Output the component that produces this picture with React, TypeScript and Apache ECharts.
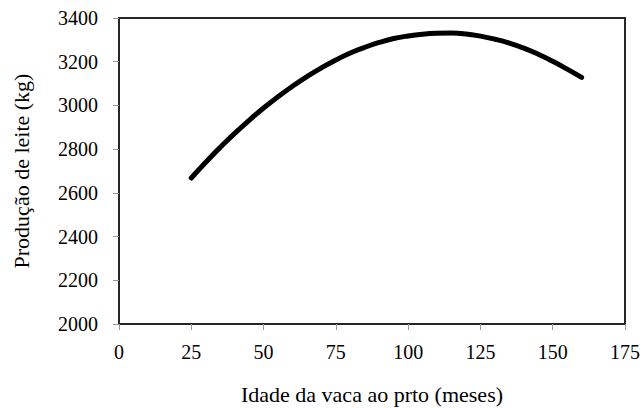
import React, { useEffect, useRef } from "react";
import * as echarts from "echarts";

const ageMonths = [25, 30, 35, 40, 45, 50, 55, 60, 65, 70, 75, 80, 85, 90, 95, 100, 105, 110, 115, 120, 125, 130, 135, 140, 145, 150, 155, 160];
const milkKg = [2668, 2740, 2808, 2872, 2932, 2988, 3040, 3088, 3132, 3172, 3208, 3240, 3266, 3288, 3306, 3318, 3326, 3330, 3331, 3327, 3317, 3303, 3285, 3262, 3234, 3202, 3166, 3128];

const xTitle = "Idade da vaca ao prto (meses)";
const yTitle = "Produção de leite (kg)";

const FONT = "'Liberation Serif', 'Times New Roman', serif";

export default function App() {
  const ref = useRef<HTMLDivElement>(null);
  useEffect(() => {
    if (!ref.current) return;
    const chart = echarts.init(ref.current, undefined, { renderer: "svg" });
    const data = ageMonths.map((a, i) => [a, milkKg[i]]);
    chart.setOption({
      animation: false,
      backgroundColor: "#ffffff",
      textStyle: { fontFamily: FONT },
      grid: {
        left: 119,
        right: 19,
        top: 18,
        bottom: 84,
        containLabel: false,
        outerBoundsMode: "none",
        show: true,
        borderColor: "#262626",
        borderWidth: 2,
        backgroundColor: "transparent",
      },
      xAxis: {
        type: "value",
        min: 0,
        max: 175,
        interval: 25,
        name: xTitle,
        nameLocation: "middle",
        nameGap: 59,
        nameTextStyle: { fontFamily: FONT, fontSize: 22, color: "#000" },
        axisLine: { show: true, onZero: false, lineStyle: { color: "#262626", width: 2 } },
        axisTick: { show: true, inside: false, length: 6, lineStyle: { color: "#999999", width: 1 } },
        axisLabel: { fontFamily: FONT, fontSize: 20, color: "#000", margin: 18, formatter: (v: number) => String(v) },
        splitLine: { show: false },
      },
      yAxis: {
        type: "value",
        min: 2000,
        max: 3400,
        interval: 200,
        name: yTitle,
        nameLocation: "middle",
        nameGap: 87,
        nameTextStyle: { fontFamily: FONT, fontSize: 22, color: "#000" },
        axisLine: { show: true, onZero: false, lineStyle: { color: "#262626", width: 2 } },
        axisTick: { show: true, inside: false, length: 6, lineStyle: { color: "#999999", width: 1 } },
        axisLabel: { fontFamily: FONT, fontSize: 20, color: "#000", margin: 21, formatter: (v: number) => String(v) },
        splitLine: { show: false },
      },
      series: [
        {
          type: "line",
          data,
          smooth: true,
          showSymbol: false,
          symbol: "none",
          lineStyle: { color: "#000000", width: 5, cap: "round", join: "round" },
        },
      ],
    });
    return () => chart.dispose();
  }, []);
  return (
    <div
      ref={ref}
      style={{ position: "absolute", left: 0, top: 0, width: 644, height: 408 }}
    />
  );
}
